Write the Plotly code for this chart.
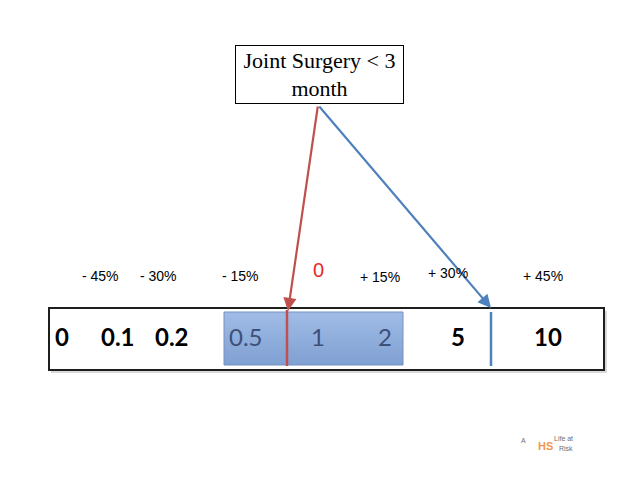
import plotly.graph_objects as go

# ---- data ----
scale_values = ["0", "0.1", "0.2", "0.5", "1", "2", "5", "10"]
scale_x = [62, 118, 172, 246, 318, 385, 458, 548]
shaded_values = ["0.5", "1", "2"]

change_labels = ["- 45%", "- 30%", "- 15%", "0", "+ 15%", "+ 30%", "+ 45%"]
change_x = [100, 158, 240, 318, 380, 448, 543]
change_y = [276, 276, 276, 270, 277, 273, 276]

title_text = "Joint Surgery < 3<br>month"

RED = "rgb(192,80,77)"
BLUE = "rgb(79,129,189)"

# page body adds an 8px offset; shift the axis ranges to compensate
OFF = 8

fig = go.Figure()

# shaded range with vertical gradient
fig.add_trace(go.Scatter(
    x=[224, 403, 403, 224, 224], y=[312, 312, 365, 365, 312],
    mode="lines", fill="toself",
    line=dict(color="rgb(115,145,195)", width=1),
    fillgradient=dict(type="vertical",
                      colorscale=[[0, "rgb(128,160,210)"], [1, "rgb(160,188,230)"]]),
    hoverinfo="skip",
))

shapes = [
    # shadow of scale box
    dict(type="rect", x0=51, x1=607, y0=311, y1=373, line=dict(width=0),
         fillcolor="rgba(0,0,0,0.15)", layer="below"),
    # scale box
    dict(type="rect", x0=49, x1=604, y0=308, y1=370,
         line=dict(color="rgb(30,30,30)", width=2), fillcolor="white", layer="below"),
    # red marker line
    dict(type="line", x0=287, x1=287, y0=310, y1=366, line=dict(color=RED, width=2.5)),
    # blue marker line
    dict(type="line", x0=491, x1=491, y0=312, y1=366, line=dict(color=BLUE, width=2.5)),
]

annotations = []
# title box
annotations.append(dict(x=319.5, y=74.5, xref="x", yref="y", text=title_text,
                        showarrow=False, font=dict(family="Liberation Serif", size=22, color="black"),
                        bordercolor="black", borderwidth=1, borderpad=2, bgcolor="white",
                        width=163, height=53, align="center"))
# arrows
annotations.append(dict(x=288, y=311, ax=318, ay=105, xref="x", yref="y", axref="x", ayref="y",
                        text="", showarrow=True, arrowhead=2, arrowsize=1.2, arrowwidth=2.2,
                        arrowcolor=RED))
annotations.append(dict(x=491, y=308, ax=318, ay=105, xref="x", yref="y", axref="x", ayref="y",
                        text="", showarrow=True, arrowhead=2, arrowsize=1.2, arrowwidth=2.2,
                        arrowcolor=BLUE))

# scale values
for v, x in zip(scale_values, scale_x):
    shaded = v in shaded_values
    annotations.append(dict(x=x, y=336, xref="x", yref="y", text=v if shaded else "<b>" + v + "</b>",
                            showarrow=False,
                            font=dict(family="Lato", size=24,
                                      color="rgb(60,80,120)" if shaded else "black")))

# change labels
for lab, x, y in zip(change_labels, change_x, change_y):
    is_zero = lab == "0"
    annotations.append(dict(x=x, y=y, xref="x", yref="y", text=lab, showarrow=False,
                            font=dict(family="Liberation Sans", size=20 if is_zero else 14,
                                      color="rgb(230,40,40)" if is_zero else "black")))

# small logo
annotations.append(dict(x=523, y=440, xref="x", yref="y", text="A", showarrow=False,
                        font=dict(family="Liberation Sans", size=7, color="rgb(110,110,110)")))
annotations.append(dict(x=563, y=438, xref="x", yref="y", text="Life at", showarrow=False,
                        font=dict(family="Liberation Sans", size=7, color="rgb(110,110,110)")))
annotations.append(dict(x=545, y=446, xref="x", yref="y", text="<b>HS</b>", showarrow=False,
                        font=dict(family="Liberation Sans", size=11, color="rgba(240,130,40,0.85)")))
annotations.append(dict(x=566, y=448, xref="x", yref="y", text="Risk", showarrow=False,
                        font=dict(family="Liberation Sans", size=7, color="rgb(110,110,110)")))

fig.update_layout(
    width=640, height=480,
    margin=dict(l=0, r=0, t=0, b=0),
    paper_bgcolor="white", plot_bgcolor="white",
    xaxis=dict(range=[OFF, 640 + OFF], visible=False, fixedrange=True),
    yaxis=dict(range=[480 + OFF, OFF], visible=False, fixedrange=True),
    shapes=shapes, annotations=annotations, showlegend=False,
)

fig.write_html("out.html")
